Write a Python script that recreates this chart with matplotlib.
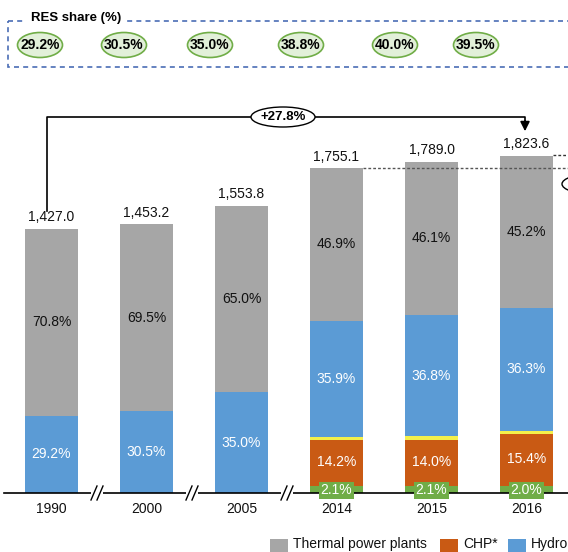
import numpy as np
import matplotlib.pyplot as plt
from matplotlib.patches import Rectangle, Ellipse

plt.rcParams['font.family'] = ['Liberation Sans', 'DejaVu Sans']

years = ['1990', '2000', '2005', '2014', '2015', '2016']
totals = [1427.0, 1453.2, 1553.8, 1755.1, 1789.0, 1823.6]
wind = [0.0, 0.0, 0.0, 2.1, 2.1, 2.0]
chp = [0.0, 0.0, 0.0, 14.2, 14.0, 15.4]
solar = [0.0, 0.0, 0.0, 0.9, 1.0, 1.1]
hydro = [29.2, 30.5, 35.0, 35.9, 36.8, 36.3]
thermal = [70.8, 69.5, 65.0, 46.9, 46.1, 45.2]
res_share = ['29.2%', '30.5%', '35.0%', '38.8%', '40.0%', '39.5%']
growth = '+27.8%'

c_thermal = '#a6a6a6'
c_hydro = '#5b9bd5'
c_chp = '#c95a14'
c_solar = '#f4f04a'
c_wind = '#70ad47'

W, H = 568, 552
fig = plt.figure(figsize=(W / 100, H / 100), dpi=100)
ax = fig.add_axes([0, 0, 1, 1])
scale = 0.185  # px per unit
ax.set_xlim(-51.5 / 95, (W - 51.5) / 95)
ax.set_ylim(-(H - 493) / scale, 493 / scale)
ax.axis('off')

x = np.arange(len(years))
tot = np.array(totals)
segs = [(wind, c_wind), (chp, c_chp), (solar, c_solar), (hydro, c_hydro), (thermal, c_thermal)]
bottom = np.zeros(len(years))
for vals, col in segs:
    h = tot * np.array(vals) / 100
    ax.bar(x, h, bottom=bottom, width=0.56, color=col, linewidth=0)
    bottom += h

fs = 10
for i in range(len(years)):
    t = totals[i]
    th0 = t * (1 - thermal[i] / 100)
    ax.text(i, (th0 + t) / 2, f'{thermal[i]:.1f}%', ha='center', va='center', fontsize=fs, color='#111111')
    hy0 = t * (wind[i] + chp[i] + solar[i]) / 100
    hy1 = hy0 + t * hydro[i] / 100
    ax.text(i, (hy0 + hy1) / 2, f'{hydro[i]:.1f}%', ha='center', va='center', fontsize=fs, color='white')
    if chp[i] > 0:
        c0 = t * wind[i] / 100
        c1 = c0 + t * chp[i] / 100
        ax.text(i, (c0 + c1) / 2 + 5, f'{chp[i]:.1f}%', ha='center', va='center', fontsize=fs, color='white')
        ax.text(i, 14, f'{wind[i]:.1f}%', ha='center', va='center', fontsize=fs, color='white',
                bbox=dict(boxstyle='square,pad=0.12', fc=c_wind, ec='none'))
    ax.text(i, t + 25, f'{t:,.1f}', ha='center', va='bottom', fontsize=fs, color='#111111')
    ax.text(i, -50, years[i], ha='center', va='top', fontsize=fs, color='#111111')

# baseline
ax.plot([-0.5, 5.5], [0, 0], color='black', lw=1.2)

# overlay in pixel coords for decorations
ov = fig.add_axes([0, 0, 1, 1], facecolor='none')
ov.set_xlim(0, W)
ov.set_ylim(H, 0)
ov.axis('off')

# axis breaks
for bx in [97, 192, 287]:
    ov.add_patch(Rectangle((bx - 6, 487), 12, 12, fc='white', ec='none', zorder=3))
    for dx in (-3, 3):
        ov.plot([bx + dx - 3, bx + dx + 3], [500, 486], color='black', lw=1, zorder=4)

# growth arrow
ov.plot([47, 47, 525, 525], [211, 117, 117, 122], color='black', lw=1.2)
ov.annotate('', xy=(525, 134), xytext=(525, 118),
            arrowprops=dict(arrowstyle='-|>', color='black', lw=1.2, mutation_scale=14))
ov.add_patch(Ellipse((283, 117), 64, 20, fc='white', ec='black', lw=1, zorder=3))
ov.text(283, 117, growth, ha='center', va='center', fontsize=9.5, fontweight='bold', zorder=4)

# dotted reference lines
ov.plot([363, W], [168, 168], color='#555555', lw=1, ls=(0, (2, 1.5)))
ov.plot([553, W], [155, 155], color='#333333', lw=1, ls=(0, (2, 1.5)))
ov.add_patch(Ellipse((592, 184), 60, 20, fc='white', ec='black', lw=1))

# RES share box
ov.add_patch(Rectangle((8, 21), 600, 46, fc='none', ec='#4a6db5', lw=1.2, ls=(0, (3, 2.5))))
ov.add_patch(Rectangle((26, 12), 100, 14, fc='white', ec='none'))
ov.text(31, 18, 'RES share (%)', ha='left', va='center', fontsize=9.5, fontweight='bold')
for cx, s in zip([40, 124, 210, 301, 395, 476], res_share):
    ov.add_patch(Ellipse((cx, 45), 45, 25, fc='#e2f0d9', ec='#70ad47', lw=1.2))
    ov.text(cx, 45, s, ha='center', va='center', fontsize=10, fontweight='bold')

# legend (cropped at the edge)
lx = 270
for lab, col, gap in [('Thermal power plants', c_thermal, 147), ('CHP*', c_chp, 45), ('Hydro', c_hydro, 60)]:
    ov.add_patch(Rectangle((lx, 539), 18, 14, fc=col, ec='none'))
    ov.text(lx + 23, 544, lab, ha='left', va='center', fontsize=fs, color='#111111')
    lx += 23 + gap

fig.savefig('out.png', dpi=100)
